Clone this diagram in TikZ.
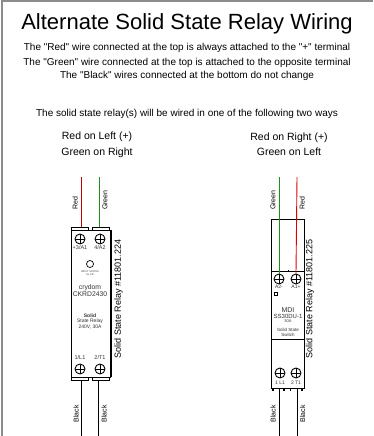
\documentclass[tikz,border=0pt]{standalone}
\usepackage{fontspec}
\setmainfont{Liberation Sans}[Ligatures=TeXOff]
\definecolor{wred}{HTML}{C00000}
\definecolor{wred2}{HTML}{E00000}
\definecolor{wgreen}{HTML}{1E8C1E}
\definecolor{frame}{HTML}{8C8C8C}
\definecolor{ink}{HTML}{333333}
\begin{document}
\begin{tikzpicture}[x=1pt,y=-1pt,
  txt/.style={inner sep=0pt, anchor=base},
  fs/.style={font=\fontsize{#1}{#1}\selectfont},
  wire/.style={line width=0.9pt},
  body/.style={draw, line width=0.7pt, fill=white},
  screw/.style={circle, draw, line width=0.9pt, minimum size=10pt, inner sep=0pt,
    path picture={\draw[line width=0.8pt] (path picture bounding box.north) -- (path picture bounding box.south)
      (path picture bounding box.west) -- (path picture bounding box.east);}},
  vlab/.style={rotate=90, inner sep=0pt, fs=7},
  small/.style={inner sep=0pt, text=ink}
]
\useasboundingbox (0,0) rectangle (373,436);
\fill[white] (0,0) rectangle (373,436);
\draw[frame, line width=2pt] (1.5,436) -- (1.5,1.5) -- (373,1.5);

% texts
\node[txt, fs=22] (title) at (187,30) {Alternate Solid State Relay Wiring};
\node[txt, fs=10] (l1) at (187,51) {The "Red" wire connected at the top is always attached to the "+" terminal};
\node[txt, fs=10] (l2) at (187,65) {The "Green" wire connected at the top is attached to the opposite terminal};
\node[txt, fs=10] (l3) at (187,78) {The "Black" wires connected at the bottom do not change};
\node[txt, fs=10] (l4) at (187,116) {The solid state relay(s) will be wired in one of the following two ways};
\node[txt, fs=10.5] (hl1) at (97,139) {Red on Left (+)};
\node[txt, fs=10.5] (hl2) at (97,155) {Green on Right};
\node[txt, fs=10.5] (hr1) at (289,140) {Red on Right (+)};
\node[txt, fs=10.5] (hr2) at (289,155) {Green on Left};

% ---------- left relay ----------
\coordinate (LrT) at (81,177);
\coordinate (LgT) at (99,177);
\coordinate (LrB) at (81,229);
\coordinate (LgB) at (99,229);
\draw[wire, wred] (LrT) -- (LrB);
\draw[wire, wgreen] (LgT) -- (LgB);
\node[vlab, anchor=west] (Lrl) at (75,210) {Red};
\node[vlab, anchor=west] (Lgl) at (105,210) {Green};
\draw[body] (71,227) rectangle (88,230);
\draw[body] (92,227) rectangle (109,230);
\draw[body] (71,230) rectangle (110,377);
\draw[line width=0.4pt] (111.5,230) -- (111.5,377);
\draw[body] (71,377) rectangle (88,380);
\draw[body] (92,377) rectangle (109,380);
\node[screw] (Ls1) at (80,239) {};
\node[screw] (Ls2) at (100,239) {};
\node[small, fs=5.5] (Lt1) at (80,248) {+3/A1};
\node[small, fs=5.5] (Lt2) at (100,248) {4/A2};
\node[circle, draw, line width=0.7pt, minimum size=7pt, inner sep=0pt] (Lled) at (90,264) {};
\node[small, fs=2.5] (Lmini1) at (90,271.5) {INPUT STATUS};
\node[small, fs=2.5] (Lmini2) at (90,274.5) {UL CE};
\node[small, fs=6.8] (Lbrand) at (90,287.5) {crydom};
\node[small, fs=6.8] (Lmodel) at (90,294.5) {CKRD2430};
\node[small, fs=5] (Ls1t) at (90,315.5) {\bfseries Solid};
\node[small, fs=5] (Ls2t) at (90,321.5) {State Relay};
\node[small, fs=5] (Ls3t) at (90,327.5) {240V, 30A};
\node[small, fs=5.5] (Lb1) at (80,358) {1/L1};
\node[small, fs=5.5] (Lb2) at (100,358) {2/T1};
\node[screw] (Ls3) at (80,369) {};
\node[screw] (Ls4) at (100,369) {};
\node[rotate=90, inner sep=0pt, fs=9] (Lname) at (118.5,299) {Solid State Relay \#11801.224};
\coordinate (Lk1T) at (81,380);
\coordinate (Lk2T) at (98.5,380);
\coordinate (Lk1B) at (81,436);
\coordinate (Lk2B) at (98.5,436);
\draw[wire] (Lk1T) -- (Lk1B);
\draw[wire] (Lk2T) -- (Lk2B);
\node[vlab] (Lkl1) at (76,414) {Black};
\node[vlab] (Lkl2) at (104,414) {Black};

% ---------- right relay ----------
\draw[body] (271,219) rectangle (304,388);
\draw[line width=0.7pt] (271,271) -- (304,271);
\draw[line width=0.7pt] (271,339) -- (304,339);
\fill (287.5,270) rectangle (289,272);
\coordinate (RgT) at (279,177);
\coordinate (RrT) at (297,177);
\node[screw] (Rs1) at (279,279) {};
\node[screw] (Rs2) at (296,279) {};
\draw[wire, wgreen] (RgT) -- (Rs1.north);
\draw[wire, wred2] (RrT) -- (Rs2.north);
\node[vlab, anchor=west] (Rgl) at (273,210) {Green};
\node[vlab, anchor=west] (Rrl) at (302,210) {Red};
\node[small, fs=5] (Rt1) at (279,287) {A2-};
\node[small, fs=5] (Rt2) at (296,287) {A1+};
\draw[line width=0.6pt] (274,292) rectangle (277,295);
\node[small, fs=7] (Rbrand) at (288,310) {MDI};
\node[small, fs=6] (Rmodel) at (288,316) {SS30DU-1};
\node[small, fs=4] (Ramp) at (288,321) {30A};
\node[small, fs=4.5] (Rss) at (288,330) {Solid State};
\node[small, fs=4.5] (Rsw) at (288,335) {Switch};
\node[screw] (Rs3) at (280,373) {};
\node[screw] (Rs4) at (296,373) {};
\node[small, fs=5] (Rb1) at (280,383) {1 L1};
\node[small, fs=5] (Rb2) at (296,383) {2 T1};
\foreach \xx in {273,284,290.5,302} \fill (\xx-0.8,388) rectangle (\xx+0.8,390.5);
\node[rotate=90, inner sep=0pt, fs=9] (Rname) at (310,299) {Solid State Relay \#11801.225};
\coordinate (Rk1T) at (279,388);
\coordinate (Rk2T) at (297,388);
\coordinate (Rk1B) at (279,436);
\coordinate (Rk2B) at (297,436);
\draw[wire] (Rk1T) -- (Rk1B);
\draw[wire] (Rk2T) -- (Rk2B);
\node[vlab] (Rkl1) at (273,414) {Black};
\node[vlab] (Rkl2) at (302.5,414) {Black};
\end{tikzpicture}
\end{document}
